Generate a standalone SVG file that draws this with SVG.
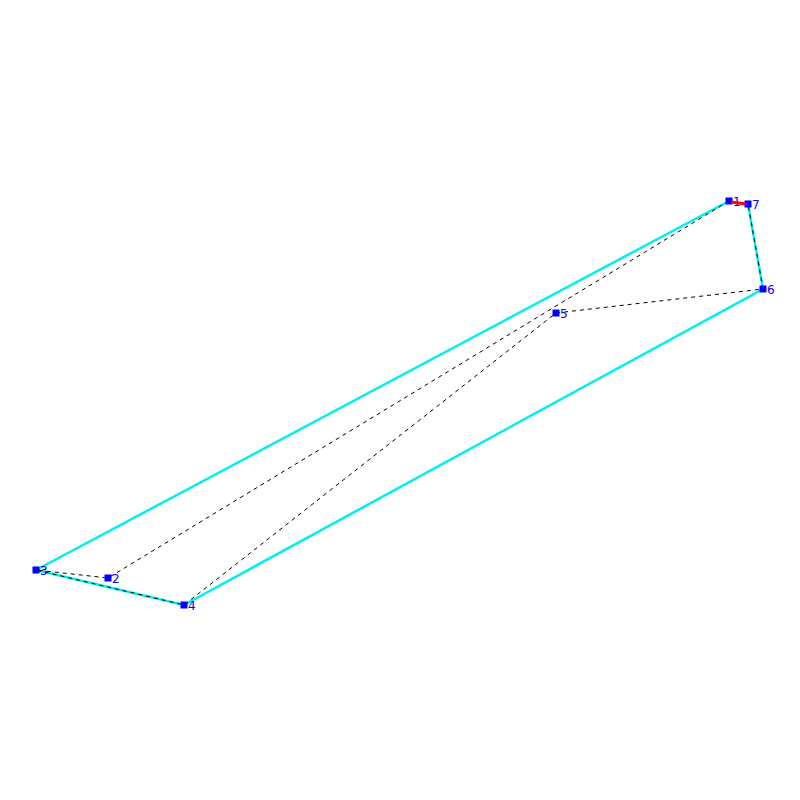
<svg xmlns="http://www.w3.org/2000/svg" width="800" height="800" viewBox="0 0 800 800">
<style>
.hull{fill:none;stroke:#00f0f0;stroke-width:2.5}
.path{fill:none;stroke:#000;stroke-width:1;stroke-dasharray:4,4}
.red{stroke:#ff0000;stroke-width:3}
.pt{fill:#0000ff}
.lbl{font-family:"DejaVu Sans",sans-serif;font-size:12px;fill:#0000ff}
</style>
<rect width="800" height="800" fill="#fff"/>
<g id="connectors">
<polyline class="hull" points="729,201 36,570 184,605 763,289 748,204"/>
<polyline class="path" points="729,201 108,578 36,570 184,605 556,313 763,289 748,204"/>
</g>
<g id="n1"><rect class="pt" x="725.5" y="197.5" width="7" height="7"/><text class="lbl" x="733" y="206">1</text></g>
<g id="n2"><rect class="pt" x="104.5" y="574.5" width="7" height="7"/><text class="lbl" x="112" y="583">2</text></g>
<g id="n3"><rect class="pt" x="32.5" y="566.5" width="7" height="7"/><text class="lbl" x="40" y="575">3</text></g>
<g id="n4"><rect class="pt" x="180.5" y="601.5" width="7" height="7"/><text class="lbl" x="188" y="610">4</text></g>
<g id="n5"><rect class="pt" x="552.5" y="309.5" width="7" height="7"/><text class="lbl" x="560" y="318">5</text></g>
<g id="n6"><rect class="pt" x="759.5" y="285.5" width="7" height="7"/><text class="lbl" x="767" y="294">6</text></g>
<g id="n7"><rect class="pt" x="744.5" y="200.5" width="7" height="7"/><text class="lbl" x="752" y="209">7</text></g>
<g id="edge17"><line class="red" x1="731" y1="202" x2="746" y2="204"/></g>
</svg>
